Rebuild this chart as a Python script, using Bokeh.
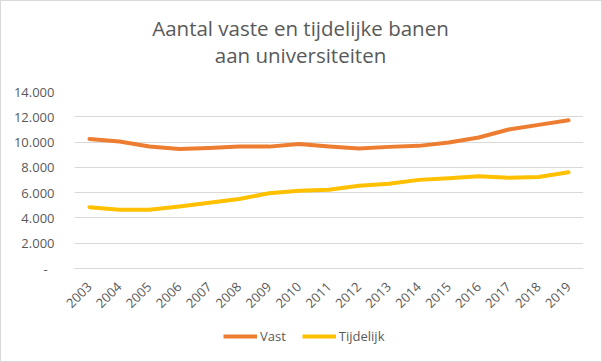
from bokeh.plotting import figure
from bokeh.layouts import column
from bokeh.models import FactorRange, FixedTicker, Legend, LegendItem, Range1d, Label
from bokeh.embed import file_html
from bokeh.resources import INLINE
import math

years = [str(y) for y in range(2003, 2020)]
vast = [10250, 10040, 9650, 9460, 9540, 9640, 9640, 9850, 9650, 9500, 9620, 9700, 9970, 10360, 10990, 11360, 11720]
tijdelijk = [4850, 4650, 4650, 4900, 5200, 5500, 5950, 6150, 6230, 6550, 6700, 7010, 7140, 7300, 7180, 7240, 7610]
y_ticks = [0, 2000, 4000, 6000, 8000, 10000, 12000, 14000]
y_tick_labels = {0: "-\u00a0\u00a0", 2000: "2.000", 4000: "4.000", 6000: "6.000", 8000: "8.000",
                 10000: "10.000", 12000: "12.000", 14000: "14.000"}
title_lines = ["Aantal vaste en tijdelijke banen", "aan universiteiten"]
series_names = ["Vast", "Tijdelijk"]
colors = ["#ED7D31", "#FFC000"]

FONT = "Open Sans"
GREY = "#595959"
W = 600
TH, MH, LH = 79, 234, 47
FL, FR = 73, 582  # frame left / right (aligned across the column)


def blank(h):
    f = figure(width=W, height=h, x_range=Range1d(FL, FR), y_range=Range1d(0, h),
               x_axis_location=None, y_axis_location=None, output_backend="svg",
               toolbar_location=None, min_border=0, min_border_left=FL, min_border_right=W - FR)
    f.outline_line_color = None
    f.grid.visible = False
    return f


# title
pt = blank(TH)
for txt, yb in zip(title_lines, [TH - 26, TH - 53]):
    pt.add_layout(Label(x=299, y=yb, text=txt, text_align="center", text_baseline="alphabetic",
                        text_font=FONT, text_font_size="20.5px", text_color=GREY))

# main chart
p = figure(x_range=FactorRange(*years), y_range=Range1d(0, 14000),
           width=W, height=MH, output_backend="svg", toolbar_location=None,
           min_border_left=FL, min_border_right=W - FR, min_border_top=11, min_border_bottom=46)
p.outline_line_color = None
p.xgrid.grid_line_color = None
p.ygrid.grid_line_color = "#d9d9d9"
p.ygrid.grid_line_width = 1
p.yaxis.ticker = FixedTicker(ticks=y_ticks)
p.yaxis.major_label_overrides = y_tick_labels
for ax in (p.xaxis[0], p.yaxis[0]):
    ax.axis_line_color = None
    ax.major_tick_line_color = None
    ax.minor_tick_line_color = None
    ax.major_label_text_font = FONT
    ax.major_label_text_font_size = "13px"
    ax.major_label_text_color = GREY
p.xaxis.axis_line_color = "#d9d9d9"
p.xaxis.major_label_orientation = math.pi / 4
p.xaxis.major_label_standoff = 10
p.yaxis.major_label_standoff = 14

p.line(years, vast, line_color=colors[0], line_width=4, line_join="round", line_cap="round")
p.line(years, tijdelijk, line_color=colors[1], line_width=4, line_join="round", line_cap="round")

# legend (hidden proxy renderers carrying the same series)
pl = blank(LH)
items = []
for name, c, vals in zip(series_names, colors, [vast, tijdelijk]):
    r = pl.line(x=list(range(len(vals))), y=vals, line_color=c, line_width=4,
                line_cap="butt", visible=False)
    items.append(LegendItem(label=name, renderers=[r]))
legend = Legend(items=items, orientation="horizontal", location=(149, 15),
                label_text_font=FONT, label_text_font_size="13px", label_text_color=GREY,
                glyph_width=34, label_standoff=3, spacing=16, padding=0, margin=0,
                border_line_color=None, background_fill_alpha=0)
pl.add_layout(legend, "center")

layout = column(pt, p, pl, spacing=0)
layout.styles = {"border": "1px solid #d9d9d9"}
open("out.html", "w").write(file_html(layout, INLINE))
